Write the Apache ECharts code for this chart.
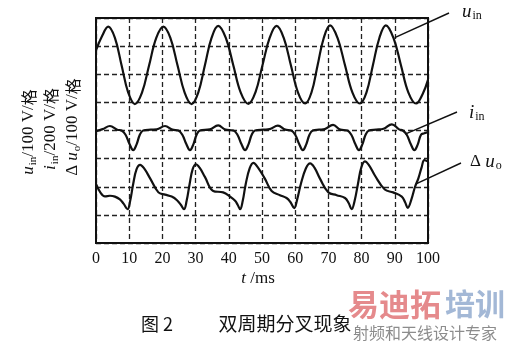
<!DOCTYPE html>
<html>
<head>
<meta charset="utf-8">
<script src="https://cdn.jsdelivr.net/npm/echarts@6/dist/echarts.min.js"></script>
<style>
html,body{margin:0;padding:0;background:#fff;}
#c{width:507px;height:342px;}
</style>
</head>
<body>
<div id="c"></div>
<script>
// time axis ticks (ms)
var xTicks = [0, 10, 20, 30, 40, 50, 60, 70, 80, 90, 100];
// traces in divisions (格): [t (ms), value]
var uIn = [[0,6.85],[1.8,7.35],[3.7,7.69],[5.7,7.29],[7.7,6.32],[9.7,5.35],[11.7,4.94],
  [13.85,5.35],[16.0,6.32],[18.15,7.29],[20.3,7.69],[22.4,7.29],[24.55,6.32],[26.7,5.35],[28.8,4.94],
  [30.8,5.35],[32.8,6.32],[34.8,7.29],[36.8,7.72],[39.1,7.29],[41.35,6.32],[43.6,5.35],[45.9,4.95],
  [48.0,5.35],[50.15,6.32],[52.3,7.29],[54.4,7.72],[56.55,7.29],[58.7,6.32],[60.85,5.35],[63.0,4.96],
  [64.9,5.35],[66.75,6.32],[68.6,7.29],[70.5,7.74],[72.75,7.29],[75.0,6.32],[77.25,5.35],[79.5,4.96],
  [81.45,5.35],[83.4,6.32],[85.35,7.29],[87.3,7.74],[89.6,7.29],[91.85,6.32],[94.1,5.35],[96.4,4.96],
  [98.4,5.3],[100,5.8]];
var iIn = [[0,3.98],[2.0,4.05],[4.2,4.16],[6.4,4.03],[7.7,4.0],[8.9,3.85],[10.1,3.52],[11.2,3.3],[12.2,3.5],[13.2,3.85],[14.2,4.0],
  [16.5,4.03],[18.3,4.04],[20.8,4.16],[23.0,4.03],[24.8,4.0],[26.0,3.85],[27.2,3.52],[28.3,3.3],[29.3,3.5],[30.3,3.85],[31.3,4.0],
  [34.3,4.04],[36.8,4.18],[39.0,4.03],[41.4,4.0],[42.6,3.85],[43.8,3.52],[44.9,3.3],[45.9,3.5],[46.9,3.85],[47.9,4.0],
  [50.5,4.03],[52.3,4.05],[54.8,4.17],[57.0,4.03],[58.8,4.0],[60.0,3.85],[61.2,3.52],[62.3,3.3],[63.3,3.5],[64.3,3.85],[65.3,4.0],
  [67.2,4.03],[68.9,4.05],[71.4,4.2],[73.6,4.03],[75.7,4.0],[76.9,3.85],[78.1,3.52],[79.2,3.3],[80.2,3.5],[81.2,3.85],[82.2,4.0],
  [84.4,4.03],[86.6,4.06],[89.1,4.22],[91.3,4.04],[92.4,4.0],[93.6,3.85],[94.8,3.52],[95.9,3.3],[96.9,3.5],[97.9,3.85],[98.9,3.9],[100,3.95]];
var duO = [[0,2.1],[1.3,1.8],[2.7,1.66],[4.2,1.68],[5.7,1.65],[7.2,1.55],[8.3,1.4],[9.5,1.2],[10.3,1.5],[11.2,2.1],[12.2,2.62],[13.3,2.78],[14.5,2.65],
  [16.3,2.3],[18.8,1.8],[20.8,1.72],[22.8,1.65],[24.4,1.52],[25.6,1.35],[26.5,1.2],[27.3,1.5],[28.2,2.1],[29.1,2.62],[30.1,2.8],[31.3,2.66],
  [32.8,2.35],[35.3,1.85],[38.3,1.8],[40.4,1.65],[41.9,1.5],[42.7,1.35],[43.4,1.2],[44.2,1.5],[45.1,2.1],[46.3,2.66],[47.4,2.85],[48.7,2.7],
  [50.9,2.28],[52.9,1.85],[55.4,1.7],[57.4,1.6],[58.6,1.45],[59.7,1.24],[60.6,1.55],[61.7,2.1],[63.2,2.65],[64.5,2.83],[65.8,2.68],
  [67.5,2.28],[70.0,1.8],[72.5,1.7],[75.0,1.6],[76.1,1.42],[77.0,1.2],[77.9,1.5],[78.9,2.1],[79.9,2.68],[81.0,2.9],[82.3,2.75],
  [84.0,2.4],[87.0,1.9],[89.5,1.8],[92.1,1.65],[93.1,1.45],[93.9,1.25],[95.0,1.55],[96.1,2.0],[97.1,2.3],[98.1,2.7],[98.9,2.95],[100,2.9]];
// where the leader lines touch each trace (data coords)
var leaderAnchors = { uIn: [90.0, 7.3], iIn: [93.1, 3.87], duO: [96.4, 2.1] };

var chart = echarts.init(document.getElementById('c'), null, {renderer: 'canvas'});
var ink = '#111';
var dash = {type: [5, 3], color: '#222', width: 1.3};
var serif = 'Liberation Serif, "Times New Roman", serif';
var cjk = '"Noto Sans CJK SC", sans-serif';

function trace(name, data) {
  return {name: name, type: 'line', data: data, showSymbol: false, smooth: 0.4,
    lineStyle: {color: ink, width: 2.2}, itemStyle: {color: ink}, silent: true, z: 5};
}

chart.setOption({
  animation: false,
  backgroundColor: '#fff',
  grid: {left: 96, top: 18, width: 332, height: 225, show: true, borderColor: ink, borderWidth: 2, backgroundColor: 'transparent', z: 6},
  xAxis: {type: 'value', min: xTicks[0], max: xTicks[xTicks.length - 1], interval: 10,
    axisLine: {show: false}, axisTick: {show: false},
    axisLabel: {color: ink, fontFamily: serif, fontSize: 16, margin: 8},
    splitLine: {show: true, lineStyle: dash}},
  yAxis: {type: 'value', min: 0, max: 8, interval: 1,
    axisLine: {show: false}, axisTick: {show: false}, axisLabel: {show: false},
    splitLine: {show: true, lineStyle: dash}},
  series: [trace('u_in', uIn), trace('i_in', iIn), trace('Δu_o', duO)]
});

var main = function (size) { return {fontFamily: serif, fontStyle: 'italic', fontSize: size, lineHeight: size + 2, fill: ink}; };
var sub = function (size, pad) { return {fontFamily: serif, fontSize: size, lineHeight: size, padding: [pad, 0, 0, 1], fill: ink}; };
var plain = function (size) { return {fontFamily: serif, fontSize: size, lineHeight: size + 2, fill: ink}; };
var han = function (size) { return {fontFamily: cjk, fontSize: size - 1, lineHeight: size + 2, fill: ink}; };

function txt(x, y, text, rich, opt) {
  opt = opt || {};
  return {type: 'text', x: x, y: y, rotation: opt.rotation || 0, z: 10,
    style: {text: text, rich: rich, x: 0, y: 0, fill: ink,
      align: opt.align || 'left', verticalAlign: 'middle',
      textAlign: opt.align || 'left', textVerticalAlign: 'middle',
      font: opt.font, fontSize: opt.fontSize, fontFamily: opt.fontFamily, fontWeight: opt.fontWeight}};
}

var yRich = {v: main(17), s: sub(11, 8), n: plain(17), c: han(17)};
var rRich = {v: main(19), s: sub(12, 8), n: plain(17)};

function px(p) { return chart.convertToPixel({gridIndex: 0}, p); }
var a1 = px(leaderAnchors.uIn), a2 = px(leaderAnchors.iIn), a3 = px(leaderAnchors.duO);
function lead(x1, y1, p) {
  return {type: 'line', z: 10, shape: {x1: x1, y1: y1, x2: p[0], y2: p[1]}, style: {stroke: ink, lineWidth: 1.4}};
}

chart.setOption({
  graphic: [
    txt(29, 132, '{v|u}{s|in}{n|/100 V/}{c|格}', yRich, {rotation: Math.PI / 2, align: 'center'}),
    txt(51, 129, '{v|i}{s|in}{n|/200 V/}{c|格}', yRich, {rotation: Math.PI / 2, align: 'center'}),
    txt(73, 127, '{n|Δ }{v|u}{s|o}{n|/100 V/}{c|格}', yRich, {rotation: Math.PI / 2, align: 'center'}),
    lead(449, 13, a1), lead(457, 112, a2), lead(461, 163, a3),
    txt(462, 12, '{v|u}{s|in}', rRich),
    txt(469, 113, '{v|i}{s|in}', rRich),
    txt(470, 162, '{n|Δ }{v|u}{s|o}', rRich),
    txt(258, 279, '{v|t}{n| /ms}', {v: main(17), n: plain(17)}, {align: 'center'}),
    {type: 'text', x: 141, y: 324, z: 10, style: {text: '图 2', fill: ink, fontFamily: cjk, fontSize: 18, align: 'left', verticalAlign: 'middle', textAlign: 'left', textVerticalAlign: 'middle'}},
    {type: 'text', x: 285, y: 324, z: 10, style: {text: '双周期分叉现象', fill: ink, fontFamily: cjk, fontSize: 19, align: 'center', verticalAlign: 'middle', textAlign: 'center', textVerticalAlign: 'middle'}},
    {type: 'text', x: 348, y: 304, z: 9, style: {text: '易迪拓', fill: '#e58a8c', fontFamily: cjk, fontWeight: 'bold', fontSize: 31, align: 'left', verticalAlign: 'middle', textAlign: 'left', textVerticalAlign: 'middle'}},
    {type: 'text', x: 445, y: 304, z: 9, style: {text: '培训', fill: '#a3b8d6', fontFamily: cjk, fontWeight: 'bold', fontSize: 30, align: 'left', verticalAlign: 'middle', textAlign: 'left', textVerticalAlign: 'middle'}},
    {type: 'text', x: 353, y: 333, z: 9, style: {text: '射频和天线设计专家', fill: '#8c8c8c', fontFamily: cjk, fontSize: 16, align: 'left', verticalAlign: 'middle', textAlign: 'left', textVerticalAlign: 'middle'}}
  ]
});
</script>
</body>
</html>
